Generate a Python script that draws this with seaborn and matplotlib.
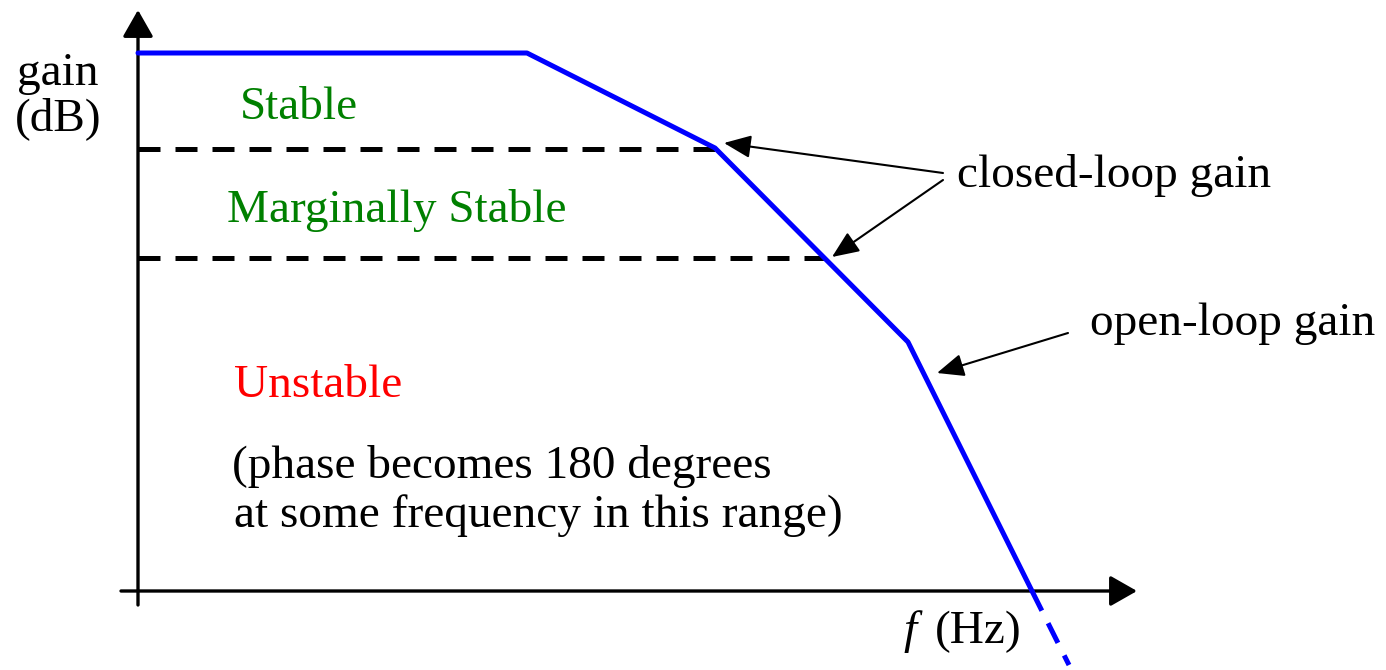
import matplotlib.pyplot as plt
import seaborn as sns
import pandas as pd

# open-loop gain curve (x = frequency, y = gain, origin at the axes crossing)
freq = [0, 389, 577, 770, 894]
gain = [538, 538, 443, 249, 0]
# continuation below the f axis (drawn dashed)
freq_tail = [894, 931]
gain_tail = [0, -74]

# closed-loop gain levels and where they meet the open-loop curve
cl_levels = [442, 333]
cl_ends = [577, 686]

region_labels = ["Stable", "Marginally Stable", "Unstable"]
region_colors = ["#008000", "#008000", "#ff0000"]
region_pos = [(102, 472), (89, 369), (96, 194)]

note_lines = ["(phase becomes 180 degrees", "at some frequency in this range)"]
note_pos = [(94, 113), (96, 64)]

sns.set_style("white")
plt.rcParams['font.family'] = ['Liberation Serif', 'DejaVu Serif']
plt.rcParams['text.color'] = 'black'

fig = plt.figure(figsize=(13.86, 6.7), dpi=100)
ax = fig.add_axes([0, 0, 1, 1])
ax.set_xlim(-138, 1248)
ax.set_ylim(-79, 591)
ax.axis("off")

# axes with arrow heads
axis_kw = dict(arrowstyle="-|>,head_length=16.5,head_width=9.4",
               color="black", lw=2.4, shrinkA=0, shrinkB=0, mutation_scale=1)
ax.annotate("", xy=(0, 581), xytext=(0, -14), arrowprops=axis_kw)
ax.annotate("", xy=(999, 0), xytext=(-17, 0), arrowprops=axis_kw)

# closed-loop gain levels (dashed)
for lvl, end in zip(cl_levels, cl_ends):
    df_cl = pd.DataFrame({"f": [0, end], "g": [lvl, lvl]})
    sns.lineplot(data=df_cl, x="f", y="g", ax=ax, color="black", lw=3.6,
                 linestyle=(0, (4.4, 3.0)), zorder=2)

# open-loop gain
df_ol = pd.DataFrame({"f": freq, "g": gain})
sns.lineplot(data=df_ol, x="f", y="g", ax=ax, color="#0000ff", lw=3.6,
             sort=False, zorder=3)
df_tail = pd.DataFrame({"f": freq_tail, "g": gain_tail})
sns.lineplot(data=df_tail, x="f", y="g", ax=ax, color="#0000ff", lw=3.6,
             linestyle=(0, (4.4, 2.8)), zorder=3)

fs = 34
ax.text(-80, 506, "gain", fontsize=fs, ha="center", va="baseline")
ax.text(-80, 461, "(dB)", fontsize=fs, ha="center", va="baseline")

for lab, col, (x, y) in zip(region_labels, region_colors, region_pos):
    ax.text(x, y, lab, color=col, fontsize=fs, ha="left", va="baseline")
for line, (x, y) in zip(note_lines, note_pos):
    ax.text(x, y, line, fontsize=fs, ha="left", va="baseline")

ax.text(819, 404, "closed-loop gain", fontsize=fs, ha="left", va="baseline")
ax.text(952, 256, "open-loop gain", fontsize=fs, ha="left", va="baseline")
ax.text(765, -52, "f", fontsize=fs, style="italic", ha="left", va="baseline")
ax.text(797, -52, "(Hz)", fontsize=fs, ha="left", va="baseline")

# pointer arrows
ptr_kw = dict(arrowstyle="-|>,head_length=16.5,head_width=7",
              color="black", lw=1.5, shrinkA=0, shrinkB=0, mutation_scale=1)
ax.annotate("", xy=(586, 448), xytext=(805, 418), arrowprops=ptr_kw)
ax.annotate("", xy=(694, 334), xytext=(805, 411), arrowprops=ptr_kw)
ax.annotate("", xy=(799, 218), xytext=(930, 258), arrowprops=ptr_kw)

fig.savefig("out.png", dpi=100)
